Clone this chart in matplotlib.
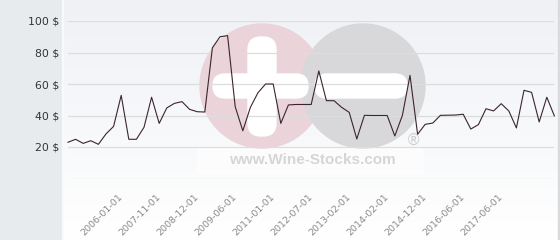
import numpy as np
import matplotlib
matplotlib.use("Agg")
import matplotlib.pyplot as plt
from matplotlib.patches import Circle, FancyBboxPatch, Rectangle

# ---- data ----
prices = [23.0, 24.9, 22.3, 24.0, 21.7, 28.3, 33.1, 52.8, 24.9, 24.9,
          32.5, 51.6, 35.0, 44.8, 47.7, 48.8, 43.9, 42.4, 42.2, 83.0,
          90.0, 90.7, 45.6, 30.3, 45.2, 54.5, 60.0, 60.0, 35.0, 46.7,
          47.0, 47.0, 47.0, 68.3, 49.4, 49.4, 45.2, 42.0, 25.1, 40.1,
          40.0, 40.0, 40.0, 27.0, 40.1, 65.5, 28.1, 34.4, 35.2, 40.1,
          40.2, 40.3, 40.8, 31.4, 34.2, 44.3, 42.9, 47.5, 42.9, 32.1,
          56.0, 54.7, 35.9, 51.6, 39.7]
tick_labels = ["2006-01-01", "2007-11-01", "2008-12-01", "2009-06-01",
               "2011-01-01", "2012-07-01", "2013-02-01", "2014-02-01",
               "2014-12-01", "2016-06-01", "2017-06-01"]
first_labelled = 7
label_step = 5
y_ticks = [0, 20, 40, 60, 80, 100]

W, H = 560, 240
fig = plt.figure(figsize=(W / 100, H / 100), dpi=100)
fig.patch.set_facecolor("#e7ebee")

# ---- background / watermark layer in pixel coordinates ----
bg = fig.add_axes([0, 0, 1, 1], zorder=0)
bg.set_xlim(0, W)
bg.set_ylim(H, 0)
bg.axis("off")
grad = np.linspace(0, 1, 256).reshape(-1, 1)
top = np.array([0.937, 0.945, 0.961])
bot = np.array([1.0, 1.0, 1.0])
img = top[None, None, :] * (1 - grad[:, :, None]) + bot[None, None, :] * grad[:, :, None]
bg.imshow(img, extent=[63, 558, H, 0], aspect="auto", zorder=0)
bg.add_patch(Rectangle((62, 0), 1.2, H, color="#f8f9fa", zorder=1))
bg.add_patch(Rectangle((558, 0), 1.2, H, color="#d8dadd", zorder=1))

bg.add_patch(Rectangle((197, 148), 226, 25, color="white", alpha=0.6, zorder=1))
bg.add_patch(Circle((262, 86), 62, color="#ead4d9", zorder=2))
bg.add_patch(Circle((363, 86), 62, color="#d8d8da", zorder=3))
bg.add_patch(FancyBboxPatch((248, 37), 28, 99, boxstyle="round,pad=0,rounding_size=13",
                            color="white", zorder=4))
bg.add_patch(FancyBboxPatch((213, 74), 95, 24, boxstyle="round,pad=0,rounding_size=12",
                            color="white", zorder=4))
bg.add_patch(FancyBboxPatch((315, 74), 92, 24, boxstyle="round,pad=0,rounding_size=12",
                            color="white", zorder=5))
bg.text(312, 160, "www.Wine-Stocks.com", family="Liberation Sans", weight="bold",
        fontsize=11, color="#d6d6d6", ha="center", va="center", zorder=5)
bg.text(413, 140, "®", family="DejaVu Sans", fontsize=11, color="#cfcfd1",
        ha="center", va="center", zorder=5)

# ---- main chart ----
x0, x1 = 68, 554.4
yb, yt = 178.5, 21
ax = fig.add_axes([x0 / W, (H - yb) / H, (x1 - x0) / W, (yb - yt) / H], zorder=2)
ax.patch.set_alpha(0)
idx = np.arange(len(prices))
ax.plot(idx, prices, color="#3b2430", linewidth=0.8, clip_on=False, zorder=3)
ax.set_xlim(0, len(prices) - 1)
ax.set_ylim(0, 100)
for s in ax.spines.values():
    s.set_visible(False)
ax.set_yticks(y_ticks)
ax.set_yticklabels(["" if v == 0 else f"{v} $" for v in y_ticks])
ax.grid(axis="y", color="#dcdde1", linewidth=0.9)
ax.tick_params(axis="y", length=0, pad=6.5, labelsize=7.8, labelcolor="#333333")
pos = list(range(first_labelled, first_labelled + label_step * len(tick_labels), label_step))
ax.set_xticks(pos)
ax.set_xticklabels(tick_labels, rotation=45, ha="right", va="center",
                   rotation_mode="anchor", fontsize=6.8, color="#8a8a8a")
ax.tick_params(axis="x", length=0, pad=12.5)

fig.savefig("out.png", dpi=100)
